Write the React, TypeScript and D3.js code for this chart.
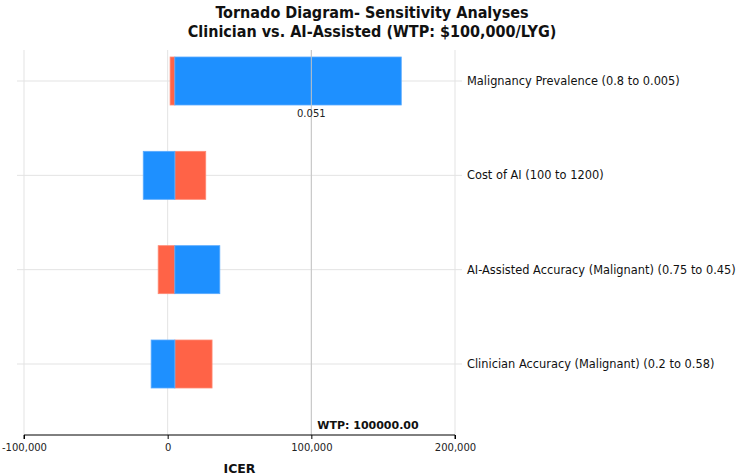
import React, { useEffect, useRef } from 'react';
import * as d3 from 'd3';

// parameters, top to bottom
const categories = [
  'Malignancy Prevalence (0.8 to 0.005)',
  'Cost of AI (100 to 1200)',
  'AI-Assisted Accuracy (Malignant) (0.75 to 0.45)',
  'Clinician Accuracy (Malignant) (0.2 to 0.58)',
];
const baseIcer = 5000;
// ICER at the two ends of each parameter range
const orangeEnd = [1700, 26500, -6600, 30900];
const blueEnd = [162600, -17000, 36300, -11500];
const xTicks = [-100000, 0, 100000, 200000];
const wtp = 100000;
const thresholdLabels = ['0.051', '', '', ''];

const W = 744;
const H = 476;
const font = '"DejaVu Sans", sans-serif';

const App: React.FC = () => {
  const svgRef = useRef<SVGSVGElement>(null);

  useEffect(() => {
    const svg = d3.select(svgRef.current);
    svg.selectAll('*').remove();

    const margin = { top: 50, left: 24, right: 289, bottom: 41 };
    const x = d3.scaleLinear()
      .domain([-100000, 200000])
      .range([margin.left, W - margin.right]);
    const y = d3.scalePoint<string>()
      .domain(categories)
      .range([81, 364]);
    const barH = 48;
    const axisY = H - margin.bottom;

    // title
    const title = svg.append('text')
      .attr('x', W / 2)
      .attr('text-anchor', 'middle')
      .attr('font-family', '"DejaVu Sans Condensed", "DejaVu Sans", sans-serif')
      .attr('font-stretch', 'condensed')
      .attr('font-weight', 'bold')
      .attr('font-size', 16)
      .attr('fill', '#111');
    title.append('tspan').attr('x', W / 2).attr('y', 18).text('Tornado Diagram- Sensitivity Analyses');
    title.append('tspan').attr('x', W / 2).attr('y', 37).text('Clinician vs. AI-Assisted (WTP: $100,000/LYG)');

    // grid
    svg.append('g')
      .selectAll('line')
      .data(xTicks)
      .join('line')
      .attr('x1', d => x(d)).attr('x2', d => x(d))
      .attr('y1', margin.top).attr('y2', axisY)
      .attr('stroke', '#e3e3e3');

    svg.append('g')
      .selectAll('line')
      .data(categories)
      .join('line')
      .attr('x1', 17).attr('x2', x(200000) + 7)
      .attr('y1', d => y(d)!).attr('y2', d => y(d)!)
      .attr('stroke', '#e3e3e3');

    // bars
    const rows = categories.map((c, i) => ({ c, o: orangeEnd[i], b: blueEnd[i] }));
    const g = svg.append('g');
    g.selectAll('rect.orange')
      .data(rows)
      .join('rect')
      .attr('class', 'orange')
      .attr('x', d => x(Math.min(d.o, baseIcer)))
      .attr('width', d => Math.abs(x(d.o) - x(baseIcer)))
      .attr('y', d => y(d.c)! - barH / 2)
      .attr('height', barH)
      .attr('fill', '#ff6347')
      .attr('stroke', '#ff8a74')
      .attr('stroke-width', 0.8);
    g.selectAll('rect.blue')
      .data(rows)
      .join('rect')
      .attr('class', 'blue')
      .attr('x', d => x(Math.min(d.b, baseIcer)))
      .attr('width', d => Math.abs(x(d.b) - x(baseIcer)))
      .attr('y', d => y(d.c)! - barH / 2)
      .attr('height', barH)
      .attr('fill', '#1e90ff')
      .attr('stroke', '#5aabff')
      .attr('stroke-width', 0.8);

    // WTP line
    svg.append('line')
      .attr('x1', x(wtp)).attr('x2', x(wtp))
      .attr('y1', margin.top).attr('y2', axisY)
      .attr('stroke', '#c4c4c4');

    svg.append('g')
      .selectAll('text')
      .data(categories.map((c, i) => ({ c, t: thresholdLabels[i] })).filter(d => d.t))
      .join('text')
      .attr('x', x(wtp))
      .attr('y', d => y(d.c)! + barH / 2 + 12)
      .attr('text-anchor', 'middle')
      .attr('font-family', font)
      .attr('font-size', 10)
      .attr('fill', '#222')
      .text(d => d.t);

    svg.append('text')
      .attr('x', x(wtp) + 6)
      .attr('y', axisY - 6)
      .attr('font-family', font)
      .attr('font-weight', 'bold')
      .attr('font-size', 11)
      .attr('fill', '#111')
      .text(`WTP: ${wtp.toFixed(2)}`);

    // category labels
    svg.append('g')
      .selectAll('text')
      .data(categories)
      .join('text')
      .attr('x', 467)
      .attr('y', d => y(d)!)
      .attr('dy', '0.35em')
      .attr('font-family', font)
      .attr('font-size', 11.4)
      .attr('fill', '#111')
      .text(d => d);

    // x axis
    const ax = svg.append('g')
      .attr('transform', `translate(0,${axisY})`)
      .call(d3.axisBottom(x).tickValues(xTicks).tickSize(4).tickPadding(5).tickFormat(d => d3.format(',')(d as number).replace('−', '-')));
    ax.select('.domain').attr('stroke', '#000').attr('d', `M${x(-100000)},4V0H${x(200000)}V4`);
    ax.selectAll('text').attr('font-family', font).attr('font-size', 10).attr('fill', '#222');

    svg.append('text')
      .attr('x', (x(-100000) + x(200000)) / 2)
      .attr('y', H - 3)
      .attr('text-anchor', 'middle')
      .attr('font-family', font)
      .attr('font-weight', 'bold')
      .attr('font-size', 12.5)
      .attr('fill', '#111')
      .text('ICER');
  }, []);

  return (
    <svg
      ref={svgRef}
      width={W}
      height={H}
      style={{ position: 'absolute', left: 0, top: 0, background: '#fff' }}
    />
  );
};

export default App;
